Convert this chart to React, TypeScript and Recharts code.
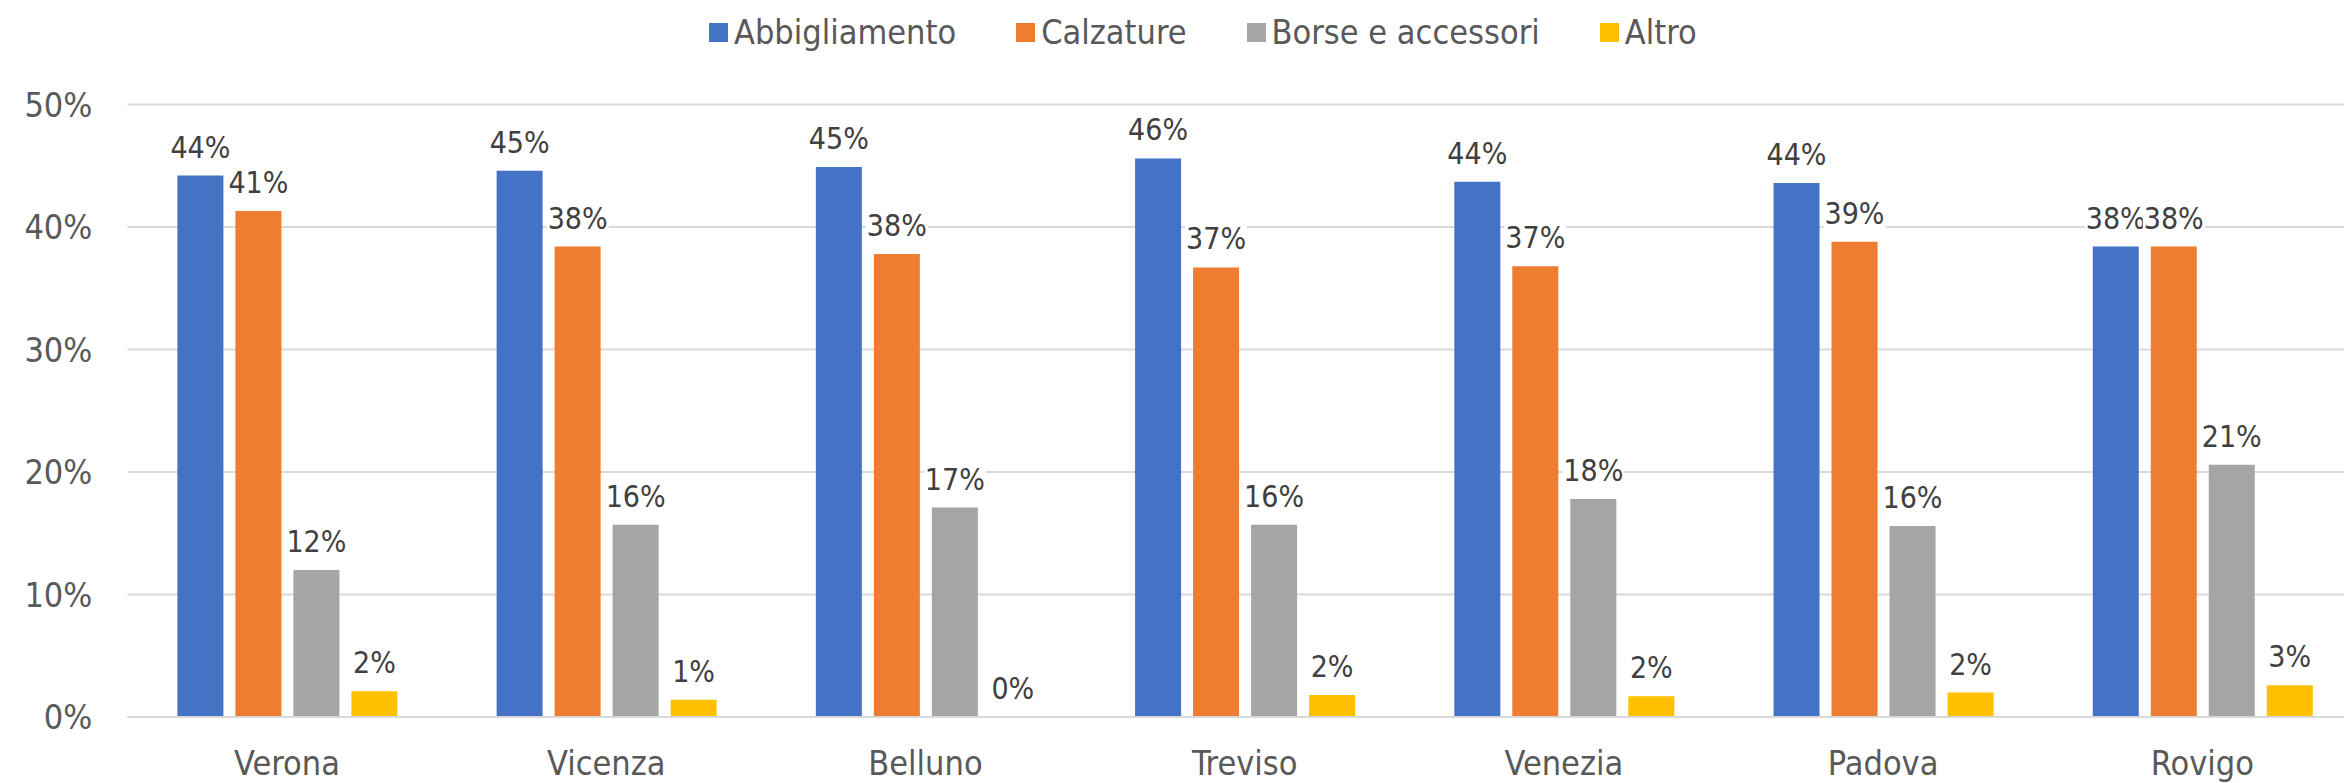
import React from "react"
import { Bar, BarChart, CartesianGrid, LabelList, XAxis, YAxis } from "recharts"

const province = ["Verona", "Vicenza", "Belluno", "Treviso", "Venezia", "Padova", "Rovigo"]
const abbigliamento = [44.2, 44.6, 44.9, 45.6, 43.7, 43.6, 38.4]
const calzature = [41.3, 38.4, 37.8, 36.7, 36.8, 38.8, 38.4]
const borse = [12.0, 15.7, 17.1, 15.7, 17.8, 15.6, 20.6]
const altro = [2.1, 1.4, 0, 1.8, 1.7, 2.0, 2.6]
const yTicks = [0, 10, 20, 30, 40, 50]

const series = [
  { key: "abbigliamento", name: "Abbigliamento", color: "#4472C4" },
  { key: "calzature", name: "Calzature", color: "#ED7D31" },
  { key: "borse", name: "Borse e accessori", color: "#A5A5A5" },
  { key: "altro", name: "Altro", color: "#FFC000" },
]

const data = province.map((p, i) => ({
  provincia: p,
  abbigliamento: abbigliamento[i],
  calzature: calzature[i],
  borse: borse[i],
  altro: altro[i],
}))

const FONT = "'DejaVu Sans Condensed', 'DejaVu Sans', sans-serif"
const LABEL_SIZE = 30

// rough width of "NN%" in DejaVu Sans Condensed
const textWidth = (s: string, size: number) =>
  s.split("").reduce((w, c) => w + (c === "%" ? 0.855 : 0.572), 0) * size

function DataLabel(props: any) {
  const { x, y, width, value } = props
  const txt = `${Math.round(value)}%`
  const cx = x + width / 2
  const base = y - 18
  const w = textWidth(txt, LABEL_SIZE) + 2
  return (
    <g>
      <rect x={cx - w / 2} y={base - 28} width={w} height={34} fill="#fff" />
      <text
        x={cx}
        y={base}
        textAnchor="middle"
        fontSize={LABEL_SIZE}
        fill="#404040"
        fontFamily={FONT}
        fontStretch="condensed"
      >
        {txt}
      </text>
    </g>
  )
}

function Legenda() {
  return (
    <div
      style={{
        position: "absolute",
        left: 709,
        top: 12,
        display: "flex",
        alignItems: "center",
        gap: 60,
        fontFamily: FONT,
        fontStretch: "condensed",
        fontSize: 34,
        color: "#595959",
        whiteSpace: "nowrap",
      }}
    >
      {series.map((s) => (
        <div key={s.key} style={{ display: "flex", alignItems: "center" }}>
          <span style={{ width: 19, height: 19, background: s.color, marginRight: 6, display: "inline-block" }} />
          <span>{s.name}</span>
        </div>
      ))}
    </div>
  )
}

export default function App() {
  const tickStyle = { fontSize: 34, fill: "#595959", fontFamily: FONT, fontStretch: "condensed" }
  return (
    <div
      style={{
        position: "absolute",
        left: 0,
        top: 0,
        width: 2344,
        height: 783,
        overflow: "hidden",
        background: "#fff",
      }}
    >
      <Legenda />
      <BarChart
        width={2370}
        height={783}
        data={data}
        margin={{ top: 104.5, right: 8, bottom: 0, left: 0 }}
        barSize={46}
        barGap={12}
      >
        <CartesianGrid vertical={false} stroke="#d9d9d9" strokeWidth={2} />
        <XAxis
          dataKey="provincia"
          height={66}
          tickLine={false}
          tickSize={0}
          tickMargin={34}
          axisLine={{ stroke: "#d9d9d9", strokeWidth: 2 }}
          tick={tickStyle}
        />
        <YAxis
          width={127.4}
          domain={[0, 50]}
          ticks={yTicks}
          tickFormatter={(v) => `${v}%`}
          axisLine={false}
          tickLine={false}
          tickSize={0}
          tickMargin={35}
          tick={tickStyle}
        />
        {series.map((s) => (
          <Bar
            key={s.key}
            dataKey={s.key}
            name={s.name}
            fill={s.color}
            minPointSize={0.01}
            isAnimationActive={false}
          >
            <LabelList dataKey={s.key} content={DataLabel} />
          </Bar>
        ))}
      </BarChart>
    </div>
  )
}
